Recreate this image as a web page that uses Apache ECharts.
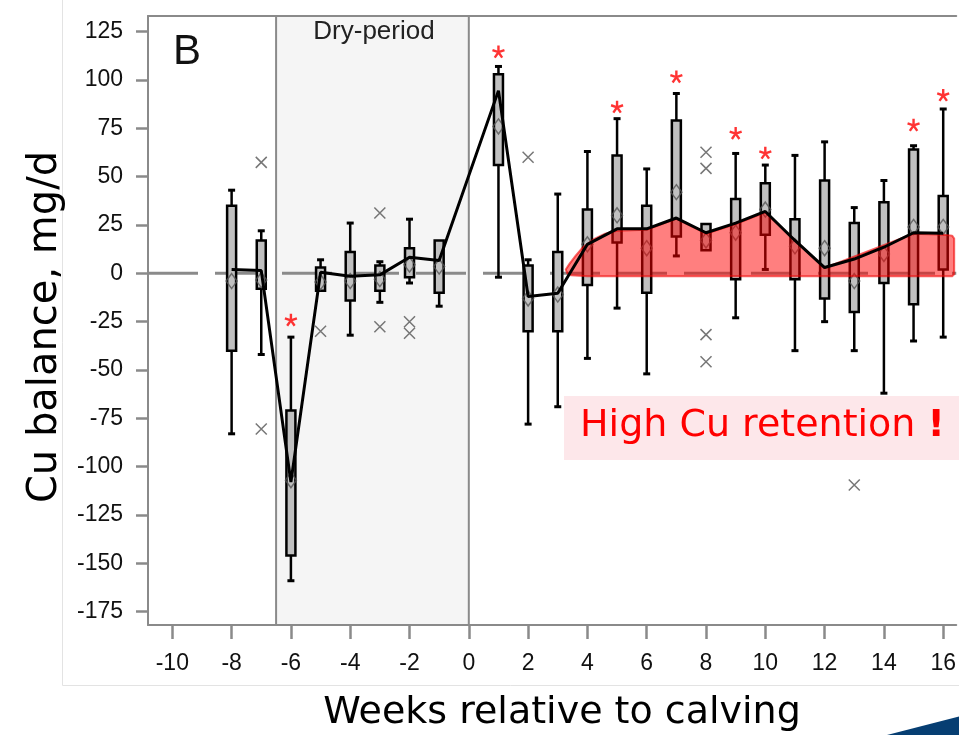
<!DOCTYPE html>
<html><head><meta charset="utf-8">
<script src="https://cdn.jsdelivr.net/npm/echarts@6/dist/echarts.min.js"></script>
<style>html,body{margin:0;padding:0;background:#fff}#c{width:959px;height:735px}</style>
</head><body><div id="c"></div><script>
const weeks = [-8,-7,-6,-5,-4,-3,-2,-1,1,2,3,4,5,6,7,8,9,10,11,12,13,14,15,16];
const whiskerLow = [-83,-42,-159,-9,-32,-15,-5,-17,-2,-78,-69,-44,-18,-52,9,12,-23,2,-40,-25,-40,-62,-35,-33];
const q1 = [-40,-8,-146,-9,-14,-9,-2,-10,56,-30,-30,-6,16,-10,19,12,-3,20,-3,-13,-20,-5,-16,2];
const median = [2,1.4,-108,0.5,-1.5,-0.8,8.3,6.6,94.5,-12,-10.3,15,23,23,28.6,21,26,32,17,3,7.4,13.5,21,20.7];
const q3 = [35,17,-71,3,11,4,13,17,103,4,11,33,61,35,79,25.5,38.5,46.6,28,48,26,36.7,64,40];
const whiskerHigh = [43,22,-33,7,26,6,28,17,107,7,41,63,80,54,93,25.5,62,56,61,68,34,48,66,85];
const mean = [-4,-3.5,-107,-4.5,-4,-3,4.5,3.5,76,-13,-11,15,30,13,42,17,21,33,14,13,-4,10,24,24];
const outliers = [[-7,57.4],[-7,-80.5],[-5,-30],[-3,31.2],[-3,-27.6],[-2,-25],[-2,-31],[2,60],[8,62.6],[8,54.3],[8,-31.7],[8,-45.7],[13,-109.5]];
const sigStars = [[-6,-24],[1,114.7],[5,86.2],[7,101.8],[9,72.6],[10,62.4],[15,76.8],[16,92.3]];
const dryPeriod = [[-6.5,0]];
const zeroRef = [[0]];
const retentionTop = [[3.27,2],[3.4,5],[3.6,9],[3.85,13.5],[4.2,17.5],[4.6,20.5],[5,22],[6,22.5],[7,28.3],[8,20.5],[9,25.5],[10,31.5],[12,2.8],[15,20.5],[16,20],[16.3,19.5],[16.37,18]];
const retentionBottom = [[16.37,-0.5],[16.3,-1.5],[4,-1.5],[3.45,-1],[3.32,0]];
const xTicks = [-10,-8,-6,-4,-2,0,2,4,6,8,10,12,14,16];
const yTicks = [-175,-150,-125,-100,-75,-50,-25,0,25,50,75,100,125];

const chart = echarts.init(document.getElementById('c'));
const tickFont = 'Liberation Sans, Arial, sans-serif';
const bigFont = 'DejaVu Sans, sans-serif';
const xMark = 'path://M0,0L10,10M10,0L0,10';
const starMark = 'path://M10,10L10,0M10,10L19.5,6.9M10,10L15.9,18.1M10,10L4.1,18.1M10,10L0.5,6.9';
const frameLine = {show:true, onZero:false, lineStyle:{color:'#8a8a8a', width:2}};
const X_MIN = -10.82, X_MAX = 16.44, Y_MIN = -181.9, Y_MAX = 133.1;

const boxData = weeks.map((w,i)=>[w, whiskerLow[i], q1[i], median[i], q3[i], whiskerHigh[i]]);

const option = {
  animation: false,
  grid: {left:148, top:16, right:0, height:609, show:false},
  xAxis: [
    {type:'value', min:X_MIN, max:X_MAX, position:'bottom', z:10,
      axisLine:frameLine, splitLine:{show:false},
      axisTick:{show:true, customValues:xTicks, length:14, lineStyle:{color:'#8a8a8a', width:2.5}},
      axisLabel:{customValues:xTicks, fontSize:23, fontFamily:tickFont, color:'#111', margin:27}},
    {type:'value', min:X_MIN, max:X_MAX, position:'top', z:10,
      axisLine:frameLine, splitLine:{show:false}, axisTick:{show:false}, axisLabel:{show:false}}
  ],
  yAxis: {type:'value', min:Y_MIN, max:Y_MAX, position:'left', z:10,
    axisLine:frameLine, splitLine:{show:false},
    axisTick:{show:true, customValues:yTicks, length:12, lineStyle:{color:'#8a8a8a', width:2.5}},
    axisLabel:{customValues:yTicks, fontSize:23, fontFamily:tickFont, color:'#111', margin:25}},
  series: [
    {type:'custom', name:'dry', z:1, silent:true, data:dryPeriod, encode:{x:[0,1]},
      renderItem(params, api){
        const cs = params.coordSys;
        const a = api.coord([api.value(0), 0])[0];
        const b = api.coord([api.value(1), 0])[0];
        return {type:'group', children:[
          {type:'rect', shape:{x:a, y:cs.y, width:b-a, height:cs.height}, style:{fill:'#f5f5f5'}},
          {type:'line', shape:{x1:a, y1:cs.y, x2:a, y2:cs.y+cs.height}, style:{stroke:'#8a8a8a', lineWidth:2}},
          {type:'line', shape:{x1:b, y1:cs.y, x2:b, y2:cs.y+cs.height}, style:{stroke:'#8a8a8a', lineWidth:2}}
        ]};
      }},
    {type:'custom', name:'zero', z:1, silent:true, data:zeroRef, encode:{y:0},
      renderItem(params, api){
        const cs = params.coordSys;
        const y = api.coord([0, api.value(0)])[1];
        return {type:'line', shape:{x1:cs.x, y1:y, x2:cs.x+cs.width, y2:y},
          style:{stroke:'#8a8a8a', lineWidth:3, lineDash:[50,17]}};
      }},
    {type:'custom', name:'boxes', z:2, silent:true, data:boxData, encode:{x:0, y:[1,2,3,4,5]},
      renderItem(params, api){
        const x = api.value(0);
        const lo = api.coord([x, api.value(1)]);
        const b1 = api.coord([x, api.value(2)]);
        const b3 = api.coord([x, api.value(4)]);
        const hi = api.coord([x, api.value(5)]);
        const cx = lo[0];
        const kids = [];
        const ws = {stroke:'#000', lineWidth:2.5};
        if (api.value(1) < api.value(2)) {
          kids.push({type:'line', shape:{x1:cx, y1:b1[1], x2:cx, y2:lo[1]}, style:ws});
          kids.push({type:'line', shape:{x1:cx-3.5, y1:lo[1], x2:cx+3.5, y2:lo[1]}, style:{stroke:'#000', lineWidth:3}});
        }
        if (api.value(5) > api.value(4)) {
          kids.push({type:'line', shape:{x1:cx, y1:b3[1], x2:cx, y2:hi[1]}, style:ws});
          kids.push({type:'line', shape:{x1:cx-3.5, y1:hi[1], x2:cx+3.5, y2:hi[1]}, style:{stroke:'#000', lineWidth:3}});
        }
        kids.push({type:'rect', shape:{x:cx-4.5, y:b3[1], width:9, height:b1[1]-b3[1]}, style:{fill:'#c0c0c0', stroke:'#000', lineWidth:2.5}});
        return {type:'group', children:kids};
      }},
    {type:'scatter', name:'mean', z:2, silent:true, data:weeks.map((w,i)=>[w, mean[i]]),
      symbol:'diamond', symbolSize:[11,15],
      itemStyle:{color:'none', borderColor:'#555', borderWidth:1.5}},
    {type:'scatter', name:'outliers', z:2, silent:true, data:outliers,
      symbol:xMark, symbolSize:11,
      itemStyle:{color:'none', borderColor:'#555', borderWidth:1.5}},
    {type:'custom', name:'retention', z:3, silent:true, data:[[0]], encode:{y:0},
      renderItem(params, api){
        const pts = retentionTop.concat(retentionBottom).map(p=>api.coord(p));
        return {type:'polygon', shape:{points:pts},
          style:{fill:'rgba(255,0,0,0.5)', stroke:'rgba(240,0,0,0.6)', lineWidth:2, lineJoin:'round'}};
      }},
    {type:'line', name:'median', z:4, silent:true, data:weeks.map((w,i)=>[w, median[i]]),
      showSymbol:false, symbol:'none', lineStyle:{color:'#000', width:3}},
    {type:'scatter', name:'sig', z:5, silent:true, data:sigStars,
      symbol:starMark, symbolSize:[12,12],
      itemStyle:{color:'none', borderColor:'#ff0000', borderWidth:2.4}}
  ],
  graphic: [
    {type:'line', shape:{x1:62.5, y1:0, x2:62.5, y2:685.5}, style:{stroke:'#e3e3e3', lineWidth:1}, z:0},
    {type:'line', shape:{x1:62.5, y1:685.5, x2:959, y2:685.5}, style:{stroke:'#e3e3e3', lineWidth:1}, z:0},
    {type:'polygon', shape:{points:[[887,735],[959,716.5],[959,735]]}, style:{fill:'#063e72'}, z:20},
    {type:'text', x:173, y:31, style:{text:'B', font:'42px Liberation Sans, Arial, sans-serif', fill:'#111', textAlign:'left', textVerticalAlign:'top'}, z:20},
    {type:'text', x:374, y:19, style:{text:'Dry-period', font:'26px Liberation Sans, Arial, sans-serif', fill:'#222', textAlign:'center', textVerticalAlign:'top'}, z:20},
    {type:'text', x:46, y:327, rotation:Math.PI/2, style:{text:'Cu balance, mg/d', font:'40px '+bigFont, fill:'#000', textAlign:'center', textVerticalAlign:'middle'}, z:20},
    {type:'text', x:562, y:713, style:{text:'Weeks relative to calving', font:'38px '+bigFont, fill:'#000', textAlign:'center', textVerticalAlign:'middle'}, z:20},
    {type:'rect', shape:{x:564, y:396, width:400, height:64}, style:{fill:'#fde7ea'}, z:20},
    {type:'text', x:580, y:426, style:{text:'{a|High Cu retention }{b|!}', textAlign:'left', textVerticalAlign:'middle',
      rich:{a:{font:'38px '+bigFont, fill:'#ff0000'}, b:{font:'bold 38px '+bigFont, fill:'#ff0000'}}}, z:21}
  ]
};
chart.setOption(option);
</script></body></html>
